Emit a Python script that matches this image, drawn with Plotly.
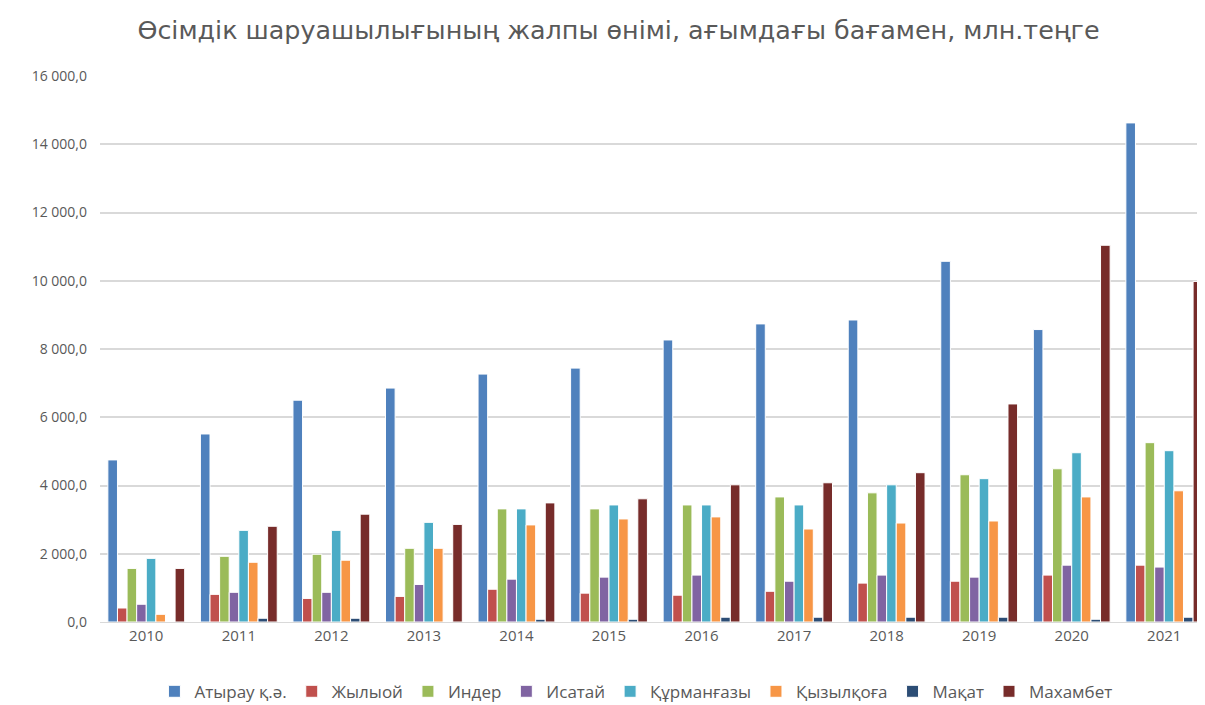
import plotly.graph_objects as go

years = ["2010", "2011", "2012", "2013", "2014", "2015", "2016", "2017", "2018", "2019", "2020", "2021"]

atyrau      = [4750, 5510, 6500, 6855, 7265, 7440, 8265, 8735, 8850, 10570, 8570, 14625]
zhylyoi     = [410, 810, 690, 750, 960, 845, 785, 900, 1140, 1195, 1375, 1665]
inder       = [1570, 1925, 1985, 2160, 3315, 3315, 3430, 3665, 3785, 4315, 4490, 5255]
isatai      = [520, 870, 870, 1100, 1255, 1315, 1375, 1195, 1375, 1315, 1665, 1610]
kurmangazy  = [1865, 2685, 2685, 2920, 3315, 3430, 3430, 3430, 4020, 4200, 4960, 5020]
kyzylkoga   = [225, 1750, 1810, 2160, 2845, 3020, 3080, 2725, 2900, 2960, 3665, 3845]
makat       = [0, 110, 110, 0, 80, 80, 140, 140, 140, 140, 80, 140]
makhambet   = [1570, 2805, 3160, 2860, 3490, 3610, 4020, 4080, 4375, 6390, 11040, 9980]

series_names = ["Атырау қ.ә.", "Жылыой", "Индер", "Исатай", "Құрманғазы", "Қызылқоға", "Мақат", "Махамбет"]
series_values = [atyrau, zhylyoi, inder, isatai, kurmangazy, kyzylkoga, makat, makhambet]
colors = ["#4F81BD", "#C0504D", "#9BBB59", "#8064A2", "#4BACC6", "#F79646", "#2C4D75", "#772C2A"]

fig = go.Figure()
for name, vals, col in zip(series_names, series_values, colors):
    fig.add_trace(go.Bar(
        x=years, y=vals, name=name,
        marker=dict(color=col, line=dict(color="white", width=1)),
    ))

grey = "#595959"
fig.update_layout(
    width=1197, height=697,
    paper_bgcolor="white", plot_bgcolor="white",
    barmode="group", bargap=0.17, bargroupgap=0.0,
    separators=", ",
    font=dict(family="Open Sans", color=grey, size=13),
    title=dict(
        text="Өсімдік шаруашылығының жалпы өнімі, ағымдағы бағамен, млн.теңге",
        x=0.51, xanchor="center", y=0.968, yanchor="middle",
        font=dict(family="DejaVu Sans", size=25.4, color=grey),
    ),
    margin=dict(l=92, r=0, t=68, b=83, autoexpand=False),
    xaxis=dict(
        type="category", range=[-0.5, 11.44],
        showgrid=False, showline=True, linecolor="#D9D9D9", linewidth=1,
        ticks="", tickfont=dict(size=15, color=grey),
    ),
    yaxis=dict(
        range=[0, 16000], dtick=2000, tickformat=",.1f",
        showgrid=True, gridcolor="#D9D9D9", gridwidth=1.5,
        zeroline=False, showline=False, ticks="",
        ticklabelstandoff=12, tickfont=dict(size=14, color=grey),
    ),
    legend=dict(
        orientation="h", x=0.485, xanchor="center",
        yref="container", y=0.019, yanchor="middle",
        font=dict(size=17, color=grey), itemwidth=30, traceorder="normal",
    ),
)

fig.write_html("out.html")
